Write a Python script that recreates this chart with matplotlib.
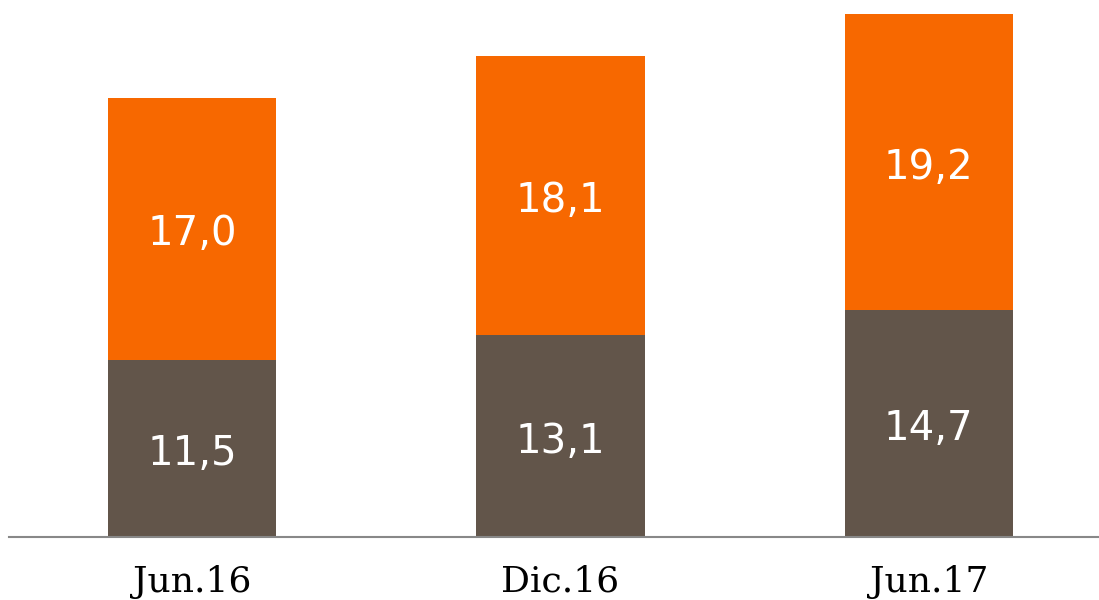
import numpy as np
import matplotlib.pyplot as plt

categories = ["Jun.16", "Dic.16", "Jun.17"]
bottom_vals = [11.5, 13.1, 14.7]
top_vals = [17.0, 18.1, 19.2]

brown = "#62554a"
orange = "#f76800"

fig = plt.figure(figsize=(10.99, 6.0), dpi=100)
ax = fig.add_axes([9 / 1099, 1 - 537 / 600, 1 - 9 / 1099, 537 / 600])

x = np.arange(len(categories))
width = 0.4565
bot = np.array(bottom_vals)
top = np.array(top_vals)

ax.bar(x, bot, width, color=brown)
ax.bar(x, top, width, bottom=bot, color=orange)

def lbl(xx, yy, v):
    ax.annotate(f"{v:.1f}".replace(".", ","), (xx, yy), xytext=(0, -4), textcoords="offset points",
                ha="center", va="center", color="white", fontsize=29, family="DejaVu Sans")

for i in range(len(x)):
    lbl(x[i], bot[i] / 2, bot[i])
    lbl(x[i], bot[i] + top[i] / 2, top[i])

ax.set_xlim(-0.4973, 2.4620)
ax.set_ylim(0, 537 / 15.42)
ax.set_xticks(x)
ax.set_xticklabels(categories, family="DejaVu Serif", fontsize=26)
ax.tick_params(axis="x", length=0, pad=20)
ax.set_yticks([])
for s in ["top", "right", "left"]:
    ax.spines[s].set_visible(False)
ax.spines["bottom"].set_color("#888888")
ax.spines["bottom"].set_linewidth(1.5)

fig.savefig("out.png", dpi=100)
